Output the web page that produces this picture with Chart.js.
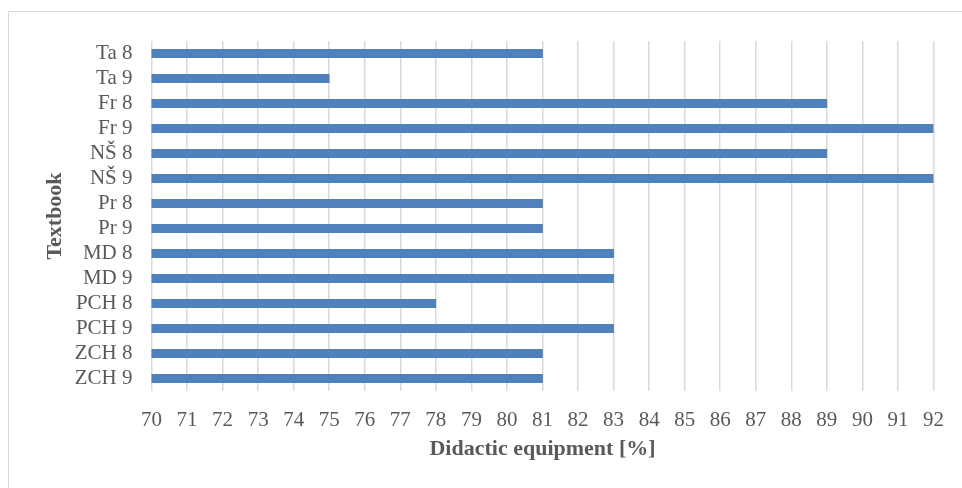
<!DOCTYPE html>
<html>
<head>
<meta charset="utf-8">
<script src="https://cdn.jsdelivr.net/npm/chart.js@4.4.1/dist/chart.umd.min.js"></script>
<style>
  html, body { margin: 0; padding: 0; background: #ffffff; overflow: hidden; }
  #wrap { position: relative; width: 962px; height: 488px; }
  #frame { position: absolute; left: 8px; top: 11px; width: 1000px; height: 600px;
           border-top: 1.5px solid #D9D9D9; border-left: 1.5px solid #D9D9D9; box-sizing: border-box; }
  canvas { position: absolute; left: 0; top: 0; }
</style>
</head>
<body>
<div id="wrap">
  <div id="frame"></div>
  <canvas id="chart" width="962" height="488"></canvas>
</div>
<script>
// Textbooks, listed top to bottom
const textbooks = ['Ta 8', 'Ta 9', 'Fr 8', 'Fr 9', 'NŠ 8', 'NŠ 9', 'Pr 8', 'Pr 9',
                   'MD 8', 'MD 9', 'PCH 8', 'PCH 9', 'ZCH 8', 'ZCH 9'];
// Didactic equipment share for each textbook [%]
const equipment = [81, 75, 89, 92, 89, 92, 81, 81, 83, 83, 78, 83, 81, 81];
// Value axis range
const axisMin = 70;
const axisMax = 92;

const textColor = '#595959';
const gridColor = '#D9D9D9';
const fontFamily = '"Liberation Serif", "Times New Roman", serif';

new Chart(document.getElementById('chart'), {
  type: 'bar',
  data: {
    labels: textbooks,
    datasets: [{
      data: equipment,
      backgroundColor: '#4F81BD',
      borderWidth: 0,
      barThickness: 8.5
    }]
  },
  options: {
    indexAxis: 'y',
    responsive: false,
    animation: false,
    events: [],
    layout: { padding: { top: 41, right: 28.5, bottom: 0, left: 0 } },
    plugins: { legend: { display: false }, tooltip: { enabled: false } },
    scales: {
      x: {
        min: axisMin,
        max: axisMax,
        afterFit: s => { s.height = 97; },
        ticks: {
          stepSize: 1,
          color: textColor,
          padding: 16.5,
          maxRotation: 0,
          autoSkip: false,
          font: { family: fontFamily, size: 21 }
        },
        grid: { color: gridColor, lineWidth: 1.5, drawTicks: false, tickLength: 0 },
        border: { display: false },
        title: {
          display: true,
          text: 'Didactic equipment [%]',
          color: textColor,
          padding: { top: 0, bottom: 25.8 },
          font: { family: fontFamily, size: 22, weight: 'bold' }
        }
      },
      y: {
        afterFit: s => { s.width = 151.5; },
        ticks: {
          color: textColor,
          padding: 19,
          autoSkip: false,
          font: { family: fontFamily, size: 21 }
        },
        grid: { display: false, drawTicks: false, tickLength: 0 },
        border: { display: false },
        title: {
          display: true,
          text: 'Textbook',
          color: textColor,
          padding: { top: 41.8, bottom: 0 },
          font: { family: fontFamily, size: 22, weight: 'bold' }
        }
      }
    }
  }
});
</script>
</body>
</html>
